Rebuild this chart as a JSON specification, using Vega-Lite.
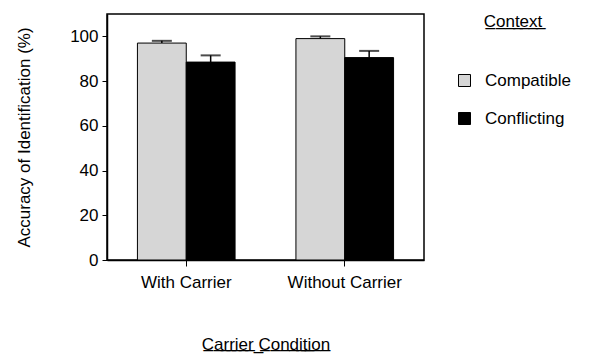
{
  "$schema": "https://vega.github.io/schema/vega-lite/v6.json",
  "width": 317,
  "height": 246,
  "autosize": {"type": "none"},
  "padding": {"left": 107, "top": 14, "right": 167, "bottom": 94},
  "config": {
    "font": "Liberation Sans",
    "view": {"stroke": "black", "strokeWidth": 1.5},
    "axis": {
      "grid": false,
      "domainColor": "black",
      "domainWidth": 1.5,
      "tickColor": "black",
      "labelColor": "black",
      "titleColor": "black",
      "labelFontSize": 17,
      "titleFontSize": 17,
      "titleFontWeight": "normal"
    },
    "legend": {
      "labelFontSize": 17,
      "titleFontSize": 17,
      "titleFontWeight": "normal",
      "labelColor": "black",
      "titleColor": "black"
    }
  },
  "data": {
    "values": [
      {"carrier": "With Carrier", "context": "Compatible", "acc": 97, "upper": 98},
      {"carrier": "With Carrier", "context": "Conflicting", "acc": 88.5, "upper": 91.5},
      {"carrier": "Without Carrier", "context": "Compatible", "acc": 99, "upper": 100},
      {"carrier": "Without Carrier", "context": "Conflicting", "acc": 90.5, "upper": 93.5}
    ]
  },
  "encoding": {
    "x": {
      "field": "carrier",
      "type": "nominal",
      "scale": {"paddingInner": 0.384, "paddingOuter": 0.192},
      "axis": {
        "title": "C\u0332a\u0332r\u0332r\u0332i\u0332e\u0332r\u0332 \u0332C\u0332o\u0332n\u0332d\u0332i\u0332t\u0332i\u0332o\u0332n\u0332",
        "labelAngle": 0,
        "tickSize": 6,
        "labelPadding": 8,
        "titlePadding": 46
      }
    },
    "xOffset": {"field": "context", "type": "nominal", "sort": ["Compatible", "Conflicting"]}
  },
  "layer": [
    {
      "mark": {"type": "bar", "stroke": "black", "strokeWidth": 1},
      "encoding": {
        "y": {
          "field": "acc",
          "type": "quantitative",
          "scale": {"domain": [0, 110], "nice": false},
          "axis": {
            "title": "Accuracy of Identification (%)",
            "values": [0, 20, 40, 60, 80, 100],
            "tickSize": 5,
            "labelPadding": 4,
            "titlePadding": 36
          }
        },
        "fill": {
          "field": "context",
          "type": "nominal",
          "sort": ["Compatible", "Conflicting"],
          "scale": {"range": ["#d6d6d6", "#000000"]},
          "legend": {
            "title": "C\u0332o\u0332n\u0332t\u0332e\u0332x\u0332t\u0332",
            "titleAnchor": "middle",
            "titlePadding": 41,
            "symbolType": "square",
            "symbolSize": 144,
            "symbolStrokeColor": "black",
            "symbolStrokeWidth": 1,
            "rowPadding": 20,
            "labelOffset": 12,
            "offset": 32
          }
        }
      }
    },
    {
      "mark": {"type": "rule", "color": "black", "strokeWidth": 1.5},
      "encoding": {
        "y": {"field": "acc", "type": "quantitative"},
        "y2": {"field": "upper"}
      }
    },
    {
      "mark": {"type": "tick", "color": "black", "thickness": 2, "size": 20},
      "encoding": {
        "y": {"field": "upper", "type": "quantitative"}
      }
    }
  ]
}
